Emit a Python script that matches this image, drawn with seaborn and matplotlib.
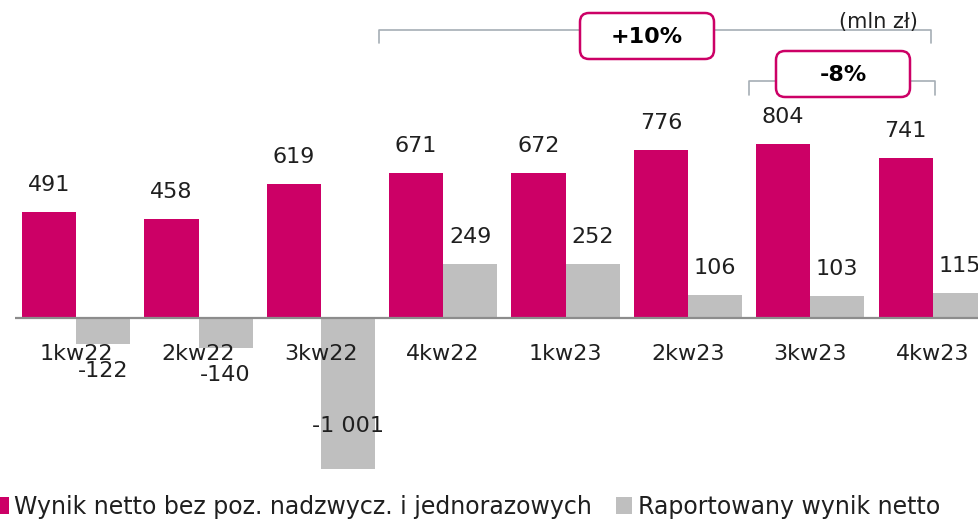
import pandas as pd
import seaborn as sns
import matplotlib.pyplot as plt
from matplotlib.patches import FancyBboxPatch
from matplotlib.transforms import IdentityTransform

# dane (mln zł)
kwartaly = ['1kw22', '2kw22', '3kw22', '4kw22', '1kw23', '2kw23', '3kw23', '4kw23']
wynik_skorygowany = [491, 458, 619, 671, 672, 776, 804, 741]
wynik_raportowany = [-122, -140, -1001, 249, 252, 106, 103, 115]
serie = ['Wynik netto bez poz. nadzwycz. i jednorazowych', 'Raportowany wynik netto']
kolory = ['#CC0066', '#BFBFBF']
zmiany = ['+10%', '-8%']

TEKST = '#1F1F1F'
W, H = 979, 519


def fmt(v):
    s = f'{abs(v):,}'.replace(',', ' ')
    return ('-' if v < 0 else '') + s


df = pd.DataFrame({
    'kwartal': kwartaly * 2,
    'seria': [serie[0]] * len(kwartaly) + [serie[1]] * len(kwartaly),
    'wartosc': wynik_skorygowany + wynik_raportowany,
})

sns.set_theme(style='white')
plt.rcParams['font.family'] = ['DejaVu Sans']

fig = plt.figure(figsize=(W / 100, H / 100), dpi=100)
ax = fig.add_axes([15 / W, 50 / H, 964 / W, 469 / H])

sns.barplot(data=df, x='kwartal', y='wartosc', hue='seria', order=kwartaly,
            hue_order=serie, palette=kolory, saturation=1, width=0.883, gap=0,
            errorbar=None, linewidth=0, ax=ax)

y_lo, y_hi = -698, 1471
ax.set_xlim(-0.5, 7.38)
ax.set_ylim(y_lo, y_hi)
sns.despine(ax=ax, left=True, bottom=True)
ax.set_xticks([])
ax.set_yticks([])
ax.set_xlabel('')
ax.set_ylabel('')
ax.axhline(0, color='#8C8C8C', lw=1.6)

# helpers: pixel (from top-left of figure) -> data
dy = (y_hi - y_lo) / 469


def y_px(p):
    return y_hi - p * dy


def x_px(p):
    return -0.5 + (p - 15) * (7.88 / 964)


# value labels
for cont, vals in zip(ax.containers, [wynik_skorygowany, wynik_raportowany]):
    for bar, v in zip(cont, vals):
        x = bar.get_x() + bar.get_width() / 2
        if v >= 0:
            ax.annotate(fmt(v), (x, v), xytext=(0, 17), textcoords='offset pixels',
                        ha='center', va='bottom', fontsize=16, color=TEKST,
                        annotation_clip=False)
        elif v > y_lo:
            ax.annotate(fmt(v), (x, v), xytext=(0, -17), textcoords='offset pixels',
                        ha='center', va='top', fontsize=16, color=TEKST,
                        annotation_clip=False)
        else:
            ax.annotate(fmt(v), (x, y_lo), xytext=(0, 53), textcoords='offset pixels',
                        ha='center', va='top', fontsize=16, color=TEKST,
                        annotation_clip=False)

# category labels
for i, k in enumerate(kwartaly):
    ax.annotate(k, (i, 0), xytext=(0, -42), textcoords='offset pixels',
                ha='center', va='baseline', fontsize=16, color=TEKST,
                annotation_clip=False)

# brackets
nawiasy = [(379, 931, 30, 43), (749, 935, 81, 95)]
for x0, x1, yl, yt in nawiasy:
    ax.plot([x_px(x0), x_px(x0), x_px(x1), x_px(x1)],
            [y_px(yt), y_px(yl), y_px(yl), y_px(yt)],
            color='#A6AEB5', lw=1.2, clip_on=False, zorder=4)

# boxes with change
ramki = [(580, 13, 134, 46), (776, 51, 134, 46)]
for (bx, by, bw, bh), txt in zip(ramki, zmiany):
    box = FancyBboxPatch((bx, H - by - bh), bw, bh,
                         boxstyle='round,pad=0,rounding_size=9',
                         transform=IdentityTransform(), fc='white',
                         ec='#CC0066', lw=1.8, zorder=5)
    fig.add_artist(box)
    fig.text((bx + bw / 2) / W, 1 - (by + bh / 2 + 1) / H, txt, ha='center',
             va='center', fontsize=16, fontweight='bold', color='black', zorder=6)

fig.text(918 / W, 1 - 22 / H, '(mln zł)', ha='right', va='center',
         fontsize=15, color=TEKST)

# legend
handles, labels = ax.get_legend_handles_labels()
ax.legend_.remove()
fig.legend(handles, labels, loc='center left', bbox_to_anchor=(-8 / W, 1 - 507 / H),
           ncol=2, frameon=False, fontsize=17, handlelength=0.7, handleheight=0.7,
           handletextpad=0.25, columnspacing=1.0, borderpad=0, borderaxespad=0,
           labelcolor=TEKST)

fig.savefig('out.png', dpi=100)
